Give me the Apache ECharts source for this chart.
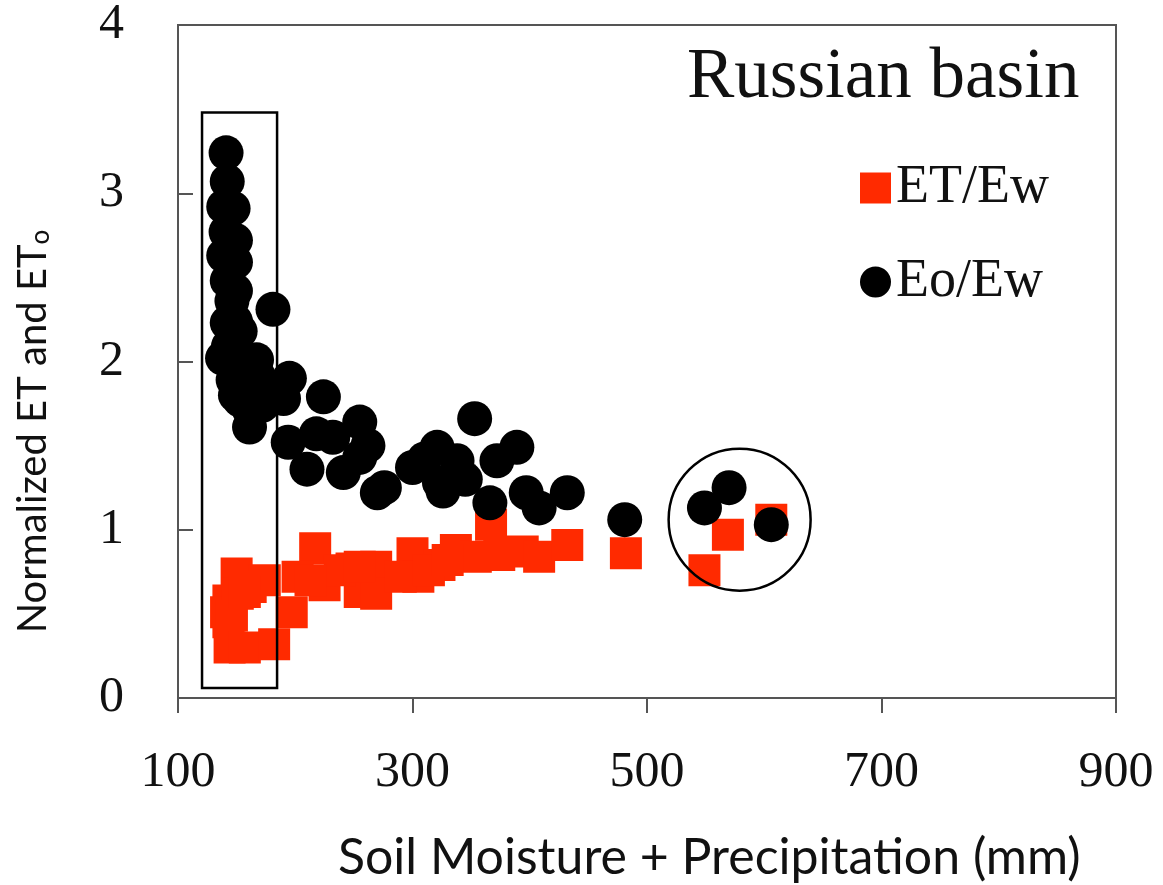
<!DOCTYPE html>
<html>
<head>
<meta charset="utf-8">
<title>Russian basin</title>
<script src="https://cdn.jsdelivr.net/npm/echarts@6/dist/echarts.min.js"></script>
<style>
  html, body { margin: 0; padding: 0; background: #fff; }
  #chart { width: 1163px; height: 885px; }
</style>
</head>
<body>
<div id="chart"></div>
<script>
// ET/Ew (red squares)
var etX = [150, 143, 143, 144, 157, 141, 174, 182, 197, 217, 202, 225, 255, 269, 248,
  300, 305, 323, 337, 354, 367, 394, 408, 432, 482, 549, 569, 606,
  238, 213, 269, 255, 290, 314, 330, 374, 162, 151, 146, 157]
var etY = [0.74, 0.58, 0.45, 0.30, 0.30, 0.51, 0.70, 0.32, 0.51, 0.89, 0.72, 0.67, 0.63, 0.78, 0.77,
  0.86, 0.72, 0.79, 0.88, 0.84, 1.03, 0.87, 0.84, 0.91, 0.86, 0.76, 0.97, 1.06,
  0.76, 0.70, 0.62, 0.78, 0.72, 0.76, 0.82, 0.85, 0.66, 0.62, 0.49, 0.63]

// Eo/Ew (black circles)
var eoX = [141, 142, 139, 147, 141, 149, 139, 149, 142, 146, 142, 149, 143, 138, 153,
  147, 167, 181, 153, 157, 161, 172, 195, 190, 224, 194, 210, 218, 255, 255,
  241, 270, 276, 300, 321, 323, 353, 338, 326, 366, 372, 389, 397, 408, 432,
  481, 549, 570, 606,
  149, 161, 174, 168, 157, 153, 149, 232, 262, 310, 345]
var eoY = [3.24, 3.07, 2.92, 2.91, 2.77, 2.72, 2.63, 2.59, 2.48, 2.36, 2.23, 2.24, 2.09, 2.02, 2.04,
  1.89, 2.01, 2.31, 1.77, 1.92, 1.61, 1.74, 1.90, 1.78, 1.79, 1.52, 1.36, 1.57, 1.64, 1.43,
  1.34, 1.22, 1.25, 1.37, 1.49, 1.28, 1.66, 1.41, 1.23, 1.16, 1.41, 1.49, 1.22, 1.13, 1.22,
  1.06, 1.13, 1.25, 1.03,
  1.80, 1.71, 1.80, 1.92, 2.01, 2.18, 2.42, 1.55, 1.50, 1.42, 1.30]

var xTicks = [100, 300, 500, 700, 900]
var yTicks = [0, 1, 2, 3, 4]

// highlighted region (rectangle) and cluster (circle), in data units
var boxX = [120.5, 184.5]
var boxY = [0.06, 3.48]
var ringCenter = [579, 1.06]

function pairs(xs, ys) {
  return xs.map(function (x, i) { return [x, ys[i]] })
}

var serif = '"Liberation Serif", "Times New Roman", serif'
var sans = 'Lato, "Open Sans", sans-serif'

var chart = echarts.init(document.getElementById('chart'))
chart.setOption({
  animation: false,
  backgroundColor: '#fff',
  title: [
    {
      text: 'Russian basin',
      left: 682,
      top: 38,
      textStyle: { fontFamily: serif, fontSize: 71, fontWeight: 'normal', color: '#111' }
    },
    {
      text: 'Soil Moisture + Precipitation (mm)',
      left: 333,
      top: 828,
      textStyle: { fontFamily: sans, fontSize: 50, fontWeight: 'normal', color: '#111' }
    }
  ],
  legend: {
    orient: 'vertical',
    left: 855,
    top: 156,
    itemWidth: 31,
    itemHeight: 31,
    itemGap: 40,
    textStyle: { fontFamily: serif, fontSize: 54, color: '#111', padding: [6, 0, 0, 0] },
    data: ['ET/Ew', 'Eo/Ew']
  },
  grid: {
    left: 178,
    right: 47,
    top: 24,
    bottom: 187,
    show: true,
    borderColor: '#555',
    borderWidth: 2
  },
  xAxis: {
    type: 'value',
    min: 100,
    max: 900,
    interval: 200,
    axisLine: { show: true, lineStyle: { color: '#555', width: 2 } },
    axisTick: { show: true, inside: false, length: 15, lineStyle: { color: '#555', width: 2 } },
    axisLabel: {
      margin: 50,
      fontFamily: serif,
      fontSize: 50,
      color: '#111',
      formatter: function (v) { return xTicks.indexOf(v) >= 0 ? String(v) : '' }
    },
    splitLine: { show: false }
  },
  yAxis: {
    type: 'value',
    min: 0,
    max: 4,
    interval: 1,
    name: 'Normalized ET and ET{sub|o}',
    nameLocation: 'middle',
    nameGap: 124,
    nameTextStyle: {
      fontFamily: sans,
      fontSize: 40,
      color: '#111',
      padding: [0, 140, 0, 0],
      rich: {
        sub: { fontFamily: sans, fontSize: 26, color: '#111', verticalAlign: 'bottom', padding: [16, 0, 0, 0] }
      }
    },
    axisLine: { show: true, lineStyle: { color: '#555', width: 2 } },
    axisTick: { show: true, inside: true, length: 15, lineStyle: { color: '#555', width: 2 } },
    axisLabel: {
      margin: 54,
      fontFamily: serif,
      fontSize: 50,
      color: '#111',
      formatter: function (v) { return yTicks.indexOf(v) >= 0 ? String(v) : '' }
    },
    splitLine: { show: false }
  },
  series: [
    {
      name: 'ET/Ew',
      type: 'scatter',
      symbol: 'rect',
      symbolSize: 32,
      itemStyle: { color: '#ff2a00', opacity: 1 },
      z: 2,
      data: pairs(etX, etY)
    },
    {
      name: 'Eo/Ew',
      type: 'scatter',
      symbol: 'circle',
      symbolSize: 35,
      itemStyle: { color: '#000', opacity: 1 },
      z: 3,
      data: pairs(eoX, eoY)
    },
    {
      name: 'box',
      type: 'scatter',
      data: [],
      z: 10,
      markArea: {
        silent: true,
        z: 10,
        itemStyle: { color: 'rgba(0,0,0,0)', borderColor: '#000', borderWidth: 2.5 },
        data: [[{ xAxis: boxX[0], yAxis: boxY[1] }, { xAxis: boxX[1], yAxis: boxY[0] }]]
      }
    }
  ]
})

var c = chart.convertToPixel({ gridIndex: 0 }, ringCenter)
chart.setOption({
  graphic: [{
    type: 'circle',
    shape: { cx: c[0], cy: c[1], r: 71 },
    style: { fill: 'none', stroke: '#000', lineWidth: 2.5 },
    z: 100
  }]
})
</script>
</body>
</html>
